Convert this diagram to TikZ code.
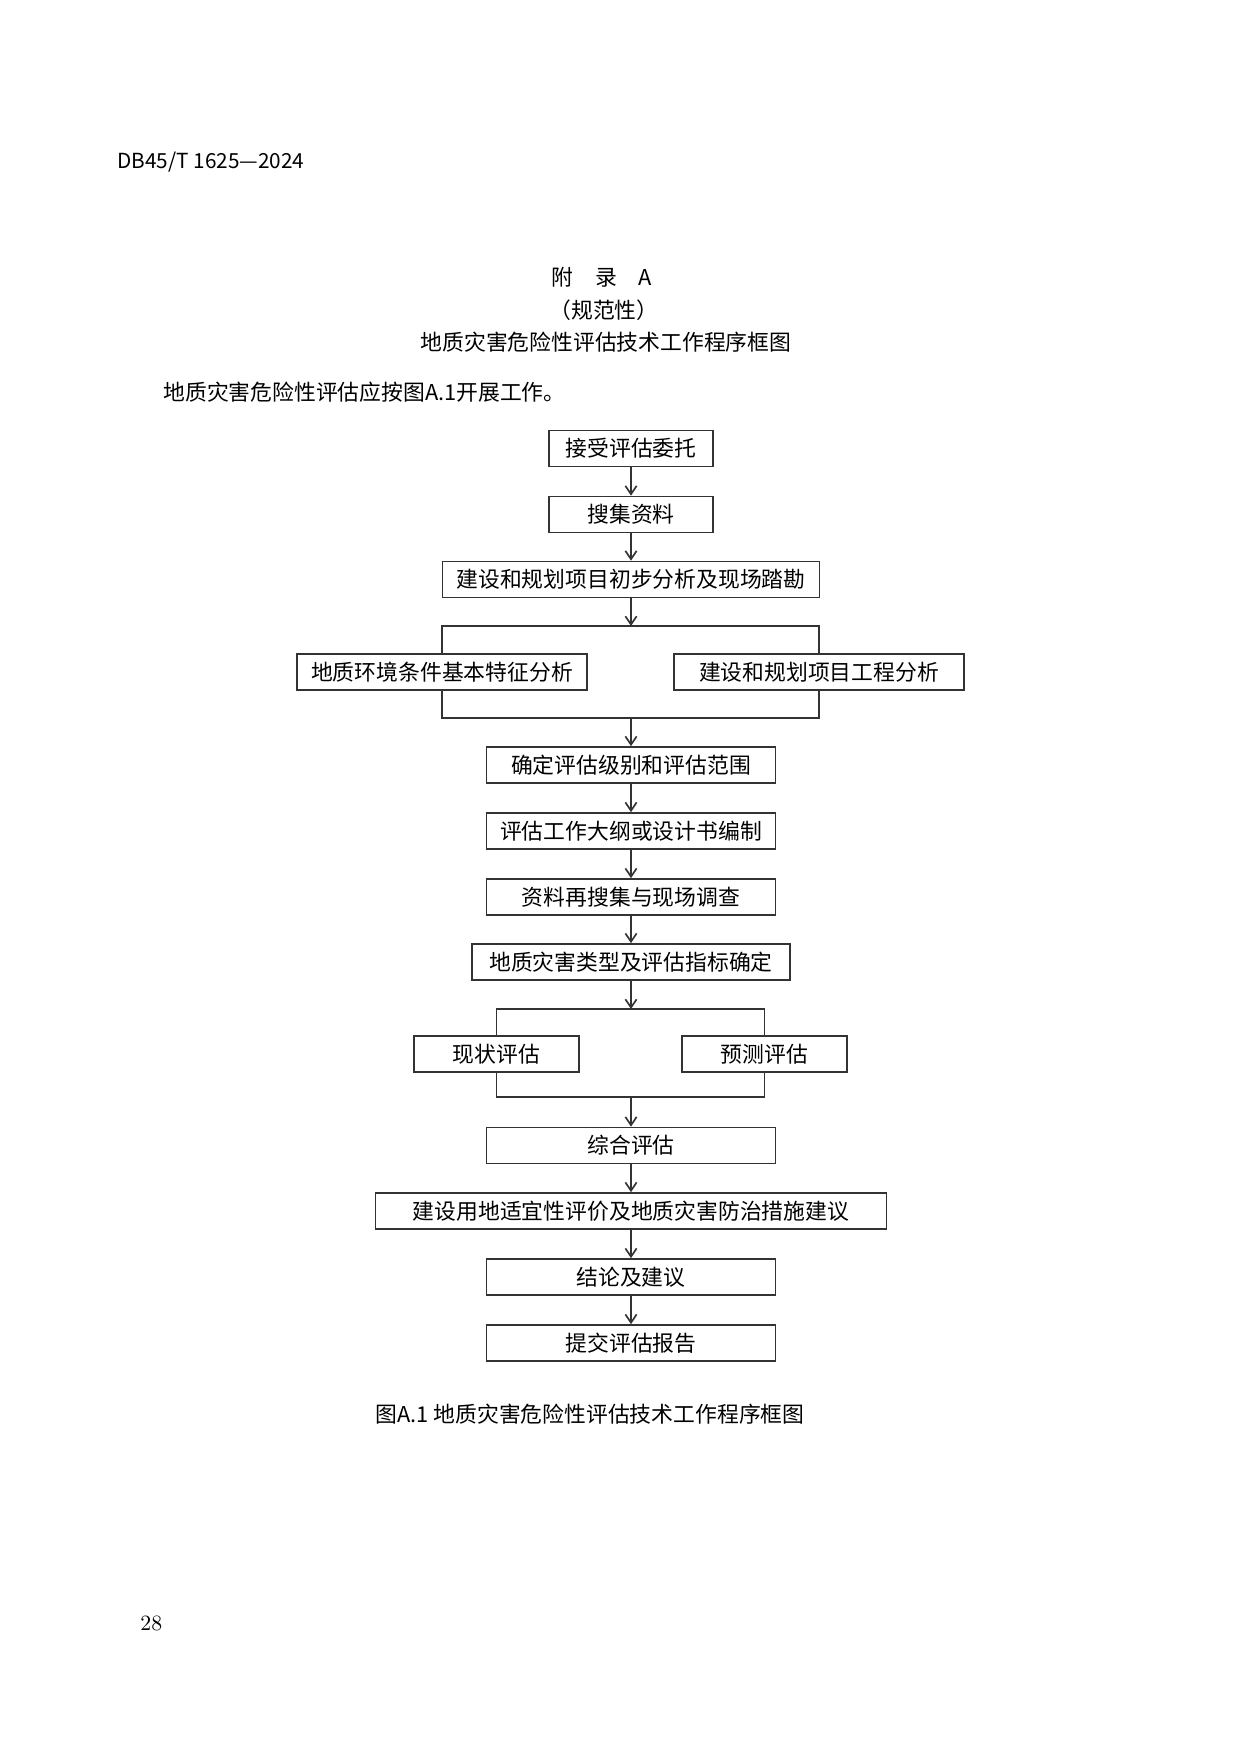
\documentclass[tikz,border=0pt]{standalone}
\usepackage{fontspec}
\newfontfamily\cjk{Noto Sans CJK SC}
\usetikzlibrary{arrows.meta}

\begin{document}
\begin{tikzpicture}[x=0.16922mm, y=-0.16922mm,
  box/.style={draw=black!80, line width=0.8pt, minimum height=6.1mm, inner sep=0pt, font=\cjk\fontsize{10.5pt}{12pt}\selectfont},
  flow/.style={draw=black!80, line width=0.8pt, -{Straight Barb[length=1.4mm, width=1.9mm]}},
  link/.style={draw=black!80, line width=0.8pt},
  txt/.style={inner sep=0pt, font=\cjk\fontsize{10.5pt}{12pt}\selectfont}]
\useasboundingbox (0,0) rectangle (1241,1755);
\fill[white] (0,0) rectangle (1241,1755);

\node[txt, anchor=west, font=\cjk\fontsize{10pt}{12pt}\selectfont] (code) at (117,162) {DB45/T 1625—2024};
\node[txt] (annex) at (602,277) {附　录　A};
\node[txt] (norm) at (604,310) {（规范性）};
\node[txt] (title) at (606,342) {地质灾害危险性评估技术工作程序框图};
\node[txt, anchor=west] (intro) at (163,392) {地质灾害危险性评估应按图A.1开展工作。};

\node[box, minimum width=27.75mm] (accept) at (631,448.5) {接受评估委托};
\node[box, minimum width=27.75mm] (collect) at (631,514.5) {搜集资料};
\node[box, minimum width=63.8mm] (survey) at (631,579.5) {建设和规划项目初步分析及现场踏勘};
\coordinate (split1) at (631,626);
\node[box, minimum width=49.07mm] (geoenv) at (442,672) {地质环境条件基本特征分析};
\node[box, minimum width=49.07mm] (project) at (819,672) {建设和规划项目工程分析};
\coordinate (join1) at (631,718);
\node[box, minimum width=48.9mm] (grade) at (631,765) {确定评估级别和评估范围};
\node[box, minimum width=48.9mm] (outline) at (631,831) {评估工作大纲或设计书编制};
\node[box, minimum width=48.9mm] (recheck) at (631,897) {资料再搜集与现场调查};
\node[box, minimum width=53.81mm] (hazard) at (631,962) {地质灾害类型及评估指标确定};
\coordinate (split2) at (631,1009);
\node[box, minimum width=27.92mm] (present) at (496.5,1054) {现状评估};
\node[box, minimum width=27.92mm] (forecast) at (764.5,1054) {预测评估};
\coordinate (join2) at (631,1097);
\node[box, minimum width=48.9mm] (overall) at (631,1145.5) {综合评估};
\node[box, minimum width=86.47mm] (suit) at (631,1211) {建设用地适宜性评价及地质灾害防治措施建议};
\node[box, minimum width=48.9mm] (concl) at (631,1277) {结论及建议};
\node[box, minimum width=48.9mm] (submit) at (631,1343) {提交评估报告};

\draw[flow] (accept) -- (collect);
\draw[flow] (collect) -- (survey);
\draw[flow] (survey) -- (split1);
\draw[link] (geoenv.north) |- (split1) -| (project.north);
\draw[link] (geoenv.south) |- (join1) -| (project.south);
\draw[flow] (join1) -- (grade);
\draw[flow] (grade) -- (outline);
\draw[flow] (outline) -- (recheck);
\draw[flow] (recheck) -- (hazard);
\draw[flow] (hazard) -- (split2);
\draw[link] (present.north) |- (split2) -| (forecast.north);
\draw[link] (present.south) |- (join2) -| (forecast.south);
\draw[flow] (join2) -- (overall);
\draw[flow] (overall) -- (suit);
\draw[flow] (suit) -- (concl);
\draw[flow] (concl) -- (submit);

\node[txt] (caption) at (590,1414) {图A.1 地质灾害危险性评估技术工作程序框图};
\node[inner sep=0pt, anchor=west, font=\fontsize{10.5pt}{12pt}\selectfont] (pageno) at (140,1623) {28};
\end{tikzpicture}
\end{document}
